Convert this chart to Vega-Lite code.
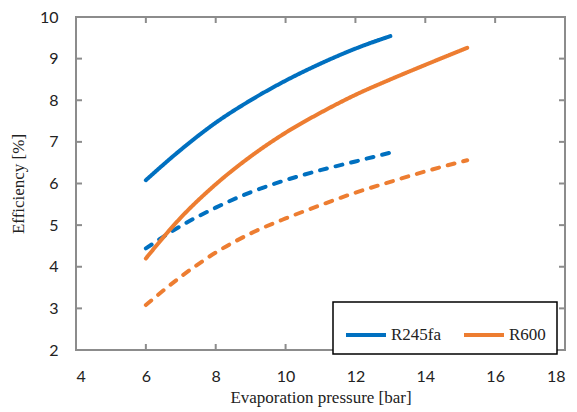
{
  "$schema": "https://vega.github.io/schema/vega-lite/v6.json",
  "width": 489,
  "height": 333,
  "autosize": {"type": "none"},
  "padding": {"left": 76, "top": 17, "right": 12, "bottom": 62},
  "background": "white",
  "config": {
    "view": {"stroke": "#8c8c8c", "strokeWidth": 2},
    "axis": {"grid": false, "domain": false, "ticks": false,
      "labelFont": "Lato", "labelFontSize": 16, "labelColor": "#222222",
      "titleFont": "Liberation Serif", "titleFontSize": 17, "titleFontWeight": "normal", "titleColor": "#222222"}
  },
  "datasets": {
    "curves": [
      {"x": 6, "y": 6.08, "fluid": "R245fa", "type": "solid"},
      {"x": 7, "y": 6.81, "fluid": "R245fa", "type": "solid"},
      {"x": 8, "y": 7.46, "fluid": "R245fa", "type": "solid"},
      {"x": 9, "y": 8.0, "fluid": "R245fa", "type": "solid"},
      {"x": 10, "y": 8.47, "fluid": "R245fa", "type": "solid"},
      {"x": 11, "y": 8.88, "fluid": "R245fa", "type": "solid"},
      {"x": 12, "y": 9.24, "fluid": "R245fa", "type": "solid"},
      {"x": 13, "y": 9.54, "fluid": "R245fa", "type": "solid"},
      {"x": 6, "y": 4.44, "fluid": "R245fa", "type": "dashed"},
      {"x": 7, "y": 4.98, "fluid": "R245fa", "type": "dashed"},
      {"x": 8, "y": 5.42, "fluid": "R245fa", "type": "dashed"},
      {"x": 9, "y": 5.79, "fluid": "R245fa", "type": "dashed"},
      {"x": 10, "y": 6.08, "fluid": "R245fa", "type": "dashed"},
      {"x": 11, "y": 6.32, "fluid": "R245fa", "type": "dashed"},
      {"x": 12, "y": 6.53, "fluid": "R245fa", "type": "dashed"},
      {"x": 13, "y": 6.74, "fluid": "R245fa", "type": "dashed"},
      {"x": 6, "y": 4.2, "fluid": "R600", "type": "solid"},
      {"x": 7, "y": 5.18, "fluid": "R600", "type": "solid"},
      {"x": 8, "y": 5.98, "fluid": "R600", "type": "solid"},
      {"x": 9, "y": 6.65, "fluid": "R600", "type": "solid"},
      {"x": 10, "y": 7.22, "fluid": "R600", "type": "solid"},
      {"x": 11, "y": 7.7, "fluid": "R600", "type": "solid"},
      {"x": 12, "y": 8.13, "fluid": "R600", "type": "solid"},
      {"x": 13, "y": 8.5, "fluid": "R600", "type": "solid"},
      {"x": 14, "y": 8.85, "fluid": "R600", "type": "solid"},
      {"x": 15.2, "y": 9.26, "fluid": "R600", "type": "solid"},
      {"x": 6, "y": 3.08, "fluid": "R600", "type": "dashed"},
      {"x": 7, "y": 3.76, "fluid": "R600", "type": "dashed"},
      {"x": 8, "y": 4.34, "fluid": "R600", "type": "dashed"},
      {"x": 9, "y": 4.8, "fluid": "R600", "type": "dashed"},
      {"x": 10, "y": 5.16, "fluid": "R600", "type": "dashed"},
      {"x": 11, "y": 5.48, "fluid": "R600", "type": "dashed"},
      {"x": 12, "y": 5.78, "fluid": "R600", "type": "dashed"},
      {"x": 13, "y": 6.04, "fluid": "R600", "type": "dashed"},
      {"x": 14, "y": 6.29, "fluid": "R600", "type": "dashed"},
      {"x": 15.2, "y": 6.56, "fluid": "R600", "type": "dashed"}
    ],
    "xticks": [{"x": 6}, {"x": 8}, {"x": 10}, {"x": 12}, {"x": 14}, {"x": 16}],
    "yticks": [{"y": 3}, {"y": 4}, {"y": 5}, {"y": 6}, {"y": 7}, {"y": 8}, {"y": 9}]
  },
  "layer": [
    {
      "data": {"name": "curves"},
      "mark": {"type": "line", "interpolate": "monotone", "strokeWidth": 4, "strokeCap": "round"},
      "encoding": {
        "x": {"field": "x", "type": "quantitative", "scale": {"domain": [4, 18], "nice": false, "zero": false},
          "axis": {"orient": "bottom", "values": [4, 6, 8, 10, 12, 14, 16, 18], "title": "Evaporation pressure [bar]", "labelPadding": 18, "titlePadding": 5}},
        "y": {"field": "y", "type": "quantitative", "scale": {"domain": [2, 10], "nice": false, "zero": false},
          "axis": {"orient": "left", "values": [2, 3, 4, 5, 6, 7, 8, 9, 10], "title": "Efficiency [%]", "labelPadding": 18, "titlePadding": 12}},
        "color": {"field": "fluid", "type": "nominal",
          "scale": {"domain": ["R245fa", "R600"], "range": ["#0070C0", "#ED7D31"]},
          "legend": {"orient": "none", "legendX": 257, "legendY": 285, "direction": "horizontal", "title": null,
            "strokeColor": "black", "fillColor": "white", "padding": 11,
            "symbolType": "stroke", "symbolSize": 1600, "symbolStrokeWidth": 4,
            "labelFont": "Liberation Serif", "labelFontSize": 17, "labelColor": "#222222", "labelOffset": 3, "columnPadding": 14,
            "encode": {"legend": {"update": {"strokeWidth": {"value": 1.5}}}}}},
        "strokeDash": {"field": "type", "type": "nominal",
          "scale": {"domain": ["solid", "dashed"], "range": [[1, 0], [7, 9]]}, "legend": null}
      }
    },
    {
      "data": {"name": "xticks"},
      "mark": {"type": "tick", "orient": "vertical", "color": "#8c8c8c", "size": 12, "thickness": 2, "clip": true, "opacity": 1},
      "encoding": {
        "x": {"field": "x", "type": "quantitative"},
        "y": {"datum": 2, "type": "quantitative"}
      }
    },
    {
      "data": {"name": "xticks"},
      "mark": {"type": "tick", "orient": "vertical", "color": "#8c8c8c", "size": 12, "thickness": 2, "clip": true, "opacity": 1},
      "encoding": {
        "x": {"field": "x", "type": "quantitative"},
        "y": {"datum": 10, "type": "quantitative"}
      }
    },
    {
      "data": {"name": "yticks"},
      "mark": {"type": "tick", "orient": "horizontal", "color": "#8c8c8c", "size": 12, "thickness": 2, "clip": true, "opacity": 1},
      "encoding": {
        "y": {"field": "y", "type": "quantitative"},
        "x": {"datum": 4, "type": "quantitative"}
      }
    },
    {
      "data": {"name": "yticks"},
      "mark": {"type": "tick", "orient": "horizontal", "color": "#8c8c8c", "size": 12, "thickness": 2, "clip": true, "opacity": 1},
      "encoding": {
        "y": {"field": "y", "type": "quantitative"},
        "x": {"datum": 18, "type": "quantitative"}
      }
    }
  ]
}
